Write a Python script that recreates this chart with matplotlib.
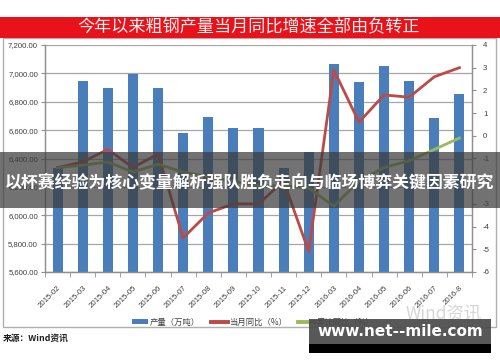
import matplotlib
matplotlib.use("Agg")
import matplotlib.pyplot as plt
from matplotlib.patches import Rectangle
from matplotlib.lines import Line2D
from matplotlib.patches import Patch
import numpy as np

plt.rcParams['font.family'] = ['Liberation Sans', 'Noto Sans CJK SC', 'DejaVu Sans']

categories = ['2015-02', '2015-03', '2015-04', '2015-05', '2015-06', '2015-07', '2015-08',
              '2015-09', '2015-10', '2015-11', '2015-12', '2016-03', '2016-04', '2016-05',
              '2016-06', '2016-07', '2016-8']
output = [6330, 6946, 6897, 6996, 6897, 6583, 6694, 6616, 6613, 6336, 6445,
          7066, 6941, 7050, 6947, 6686, 6855]
monthly_yoy = [-1.4, -1.15, -0.6, -1.4, -0.8, -4.5, -3.4, -3.0, -3.0, -2.0, -5.1,
               2.9, 0.6, 1.8, 1.7, 2.6, 3.0]
cum_yoy = [-1.4, -1.3, -1.15, -1.6, -1.25, -1.6, -1.8, -2.0, -2.2, -2.2, -2.3,
           -3.1, -2.0, -1.4, -1.1, -0.6, -0.1]
left_ticks = [5600, 5800, 6000, 6200, 6400, 6600, 6800, 7000, 7200]
right_ticks = [-6, -5, -4, -3, -2, -1, 0, 1, 2, 3, 4]
title = '今年以来粗钢产量当月同比增速全部由负转正'
legend_labels = ['产量（万吨）', '当月同比（%）', '累计同比（%）']
source = '来源：Wind资讯'
banner = '以杯赛经验为核心变量解析强队胜负走向与临场博弈关键因素研究'
site = 'www.net--mile.com'

W, H = 500, 362
fig = plt.figure(figsize=(W / 100, H / 100), dpi=100)
fig.patch.set_facecolor('white')

def fx(x):
    return x / W

def fy(y):
    return 1 - y / H

def frect(x0, y0, x1, y1, **kw):
    r = Rectangle((fx(x0), fy(y1)), fx(x1) - fx(x0), fy(y0) - fy(y1),
                  transform=fig.transFigure, **kw)
    fig.add_artist(r)
    return r

# outer frame
frect(3, 38, 496, 327, facecolor='none', edgecolor='#b0b0b0', linewidth=1.0, zorder=0)
# title bar
frect(0, 17, 500, 37.5, facecolor='#e8121b', edgecolor='none', zorder=1)
fig.text(fx(249), fy(27.5), title, color='#fff0f0', fontsize=12.3, ha='center', va='center',
         family=['Noto Sans CJK SC'], zorder=2)

ax = fig.add_axes([fx(45), fy(272), fx(472) - fx(45), fy(45) - fy(272)])
x = np.arange(len(categories))
ax.bar(x, output, width=0.4, color='#4a7ebb', zorder=2)
ax.set_ylim(5600, 7200)
ax.set_xlim(-0.5, len(categories) - 0.5)
ax.set_yticks(left_ticks)
ax.set_yticklabels([f'{v:,.2f}' for v in left_ticks], fontsize=5.6, color='#404040')
ax.yaxis.grid(True, color='#a6a6a6', linewidth=0.9, zorder=0)
ax.set_axisbelow(True)
ax.set_xticks(x)
ax.set_xticklabels(categories, rotation=45, ha='right', rotation_mode='anchor',
                   fontsize=5.6, color='#404040')
ax.set_xticks(np.arange(-0.5, len(categories), 1), minor=True)
ax.tick_params(axis='x', which='major', length=0, pad=9)
ax.tick_params(axis='x', which='minor', length=3.5, color='#909090')
ax.tick_params(axis='y', length=3, color='#909090', pad=2)
ax.spines['top'].set_visible(False)
for s in ['left', 'bottom', 'right']:
    ax.spines[s].set_color('#909090')
    ax.spines[s].set_linewidth(0.9)

ax2 = ax.twinx()
ax2.plot(x, monthly_yoy, color='#bd4a47', linewidth=2.0, zorder=3)
ax2.plot(x, cum_yoy, color='#9bbb59', linewidth=2.0, zorder=3)
ax2.set_ylim(-6, 4)
ax2.set_yticks(right_ticks)
ax2.set_yticklabels([str(v) for v in right_ticks], fontsize=5.6, color='#404040')
ax2.tick_params(axis='y', length=3, color='#909090', pad=5)
ax2.spines['top'].set_visible(False)
for s in ['left', 'bottom', 'right']:
    ax2.spines[s].set_color('#909090')
    ax2.spines[s].set_linewidth(0.9)

handles = [Patch(facecolor='#4a7ebb', edgecolor='none'),
           Line2D([], [], color='#bd4a47', linewidth=2.8),
           Line2D([], [], color='#9bbb59', linewidth=2.8)]
leg = fig.legend(handles, legend_labels, loc='center', bbox_to_anchor=(fx(253), fy(322)),
                 ncol=3, frameon=False, handlelength=2.0, handleheight=0.6,
                 handletextpad=0.2, columnspacing=1.3, prop={'family': ['Noto Sans CJK SC'], 'size': 6})
for t in leg.get_texts():
    t.set_color('#404040')

fig.text(fx(3), fy(338), source, fontsize=6.3, fontweight='bold', color='#202020',
         ha='left', va='center', family=['Noto Sans CJK SC'])

# Wind watermark
fig.text(fx(444), fy(314), 'Wind资讯', fontsize=12.5, color='#d6d6d6', ha='center', va='center',
         family=['Noto Sans CJK SC'], zorder=4)

# overlay banner
frect(0, 152, 500, 208, facecolor='#3c3c3c', edgecolor='none', alpha=0.72, zorder=10)
fig.text(fx(250), fy(182), banner, color='white', fontsize=12.2, fontweight='bold',
         ha='center', va='center', family=['Noto Sans CJK SC'], zorder=11)

# website box
frect(309, 319, 491, 343.5, facecolor='#4a4a4a', edgecolor='none', alpha=0.92, zorder=10)
frect(309, 343.5, 491, 353, facecolor='black', edgecolor='none', zorder=10)
fig.text(fx(400), fy(331), site, color='white', fontsize=11, fontweight='bold',
         ha='center', va='center', family=['DejaVu Sans'], zorder=11)

fig.savefig('out.png', dpi=100)
